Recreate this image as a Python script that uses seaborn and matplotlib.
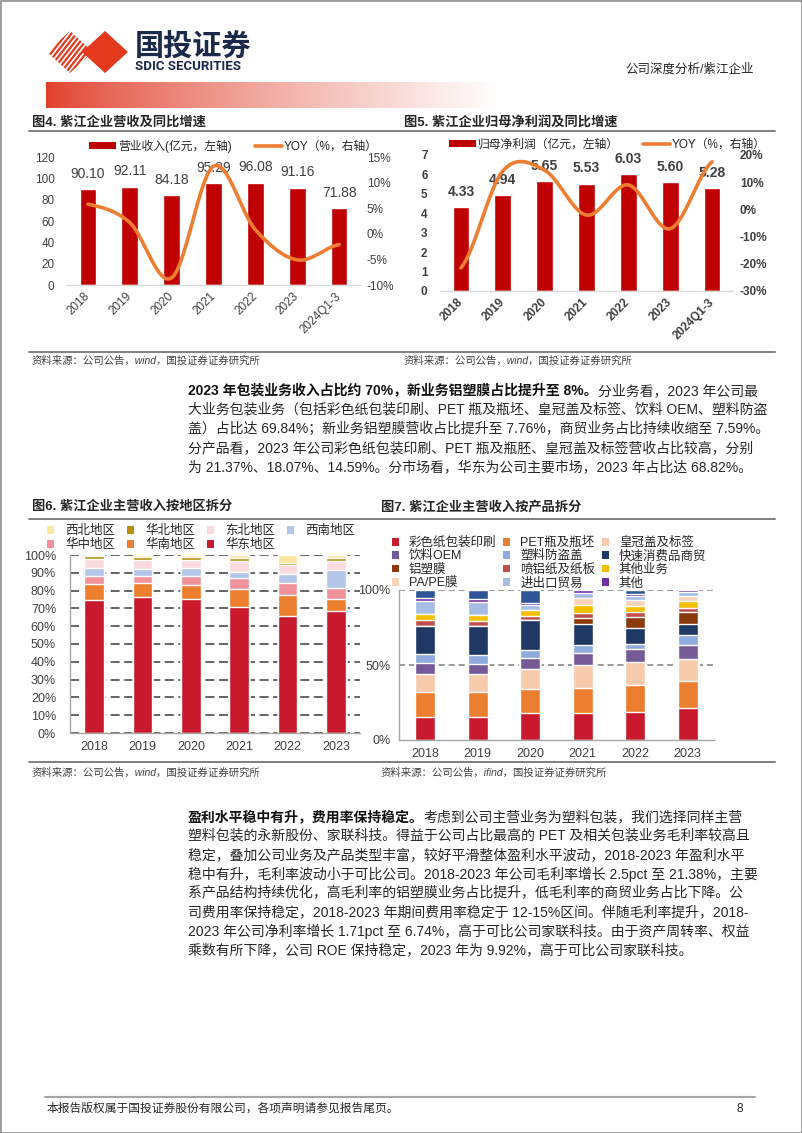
import numpy as np
import matplotlib
matplotlib.use("Agg")
import matplotlib.pyplot as plt
import seaborn as sns
from matplotlib.patches import Polygon, Rectangle, Patch
from matplotlib.lines import Line2D

# ---------------- data ----------------
years_a = ["2018", "2019", "2020", "2021", "2022", "2023", "2024Q1-3"]
revenue = [90.10, 92.11, 84.18, 95.29, 96.08, 91.16, 71.88]
revenue_yoy = [5.8, 2.2, -8.6, 13.2, 0.8, -5.1, -2.1]
profit = [4.33, 4.94, 5.65, 5.53, 6.03, 5.60, 5.28]
profit_yoy = [-21.5, 14.1, 14.4, -2.1, 9.0, -7.1, 17.5]

years_b = ["2018", "2019", "2020", "2021", "2022", "2023"]
region_names = ["华东地区", "华南地区", "华中地区", "西南地区", "东北地区", "华北地区", "西北地区"]
region_east = [74.7, 76.4, 75.2, 70.7, 65.5, 68.8]
region_south = [8.8, 7.8, 7.7, 10.0, 12.0, 6.3]
region_central = [4.9, 4.2, 5.5, 6.5, 6.6, 6.1]
region_southwest = [4.1, 3.5, 4.1, 3.4, 5.0, 10.5]
region_northeast = [5.2, 5.5, 4.7, 6.2, 5.3, 5.0]
region_north = [1.5, 1.4, 1.5, 1.7, 1.3, 1.5]
region_northwest = [0.8, 1.2, 1.3, 1.5, 4.3, 1.8]

product_names = ["彩色纸包装印刷", "PET瓶及瓶坯", "皇冠盖及标签", "饮料OEM", "塑料防盗盖",
                 "快速消费品商贸", "铝塑膜", "喷铝纸及纸板", "其他业务", "PA/PE膜",
                 "进出口贸易", "其他", "未列示"]
prod_color_print = [15.2, 15.6, 17.9, 18.0, 18.7, 21.37]
prod_pet = [16.9, 16.2, 16.3, 16.7, 17.7, 18.07]
prod_crown = [11.6, 12.2, 13.0, 15.0, 15.8, 14.59]
prod_oem = [7.6, 6.7, 7.7, 8.3, 8.2, 9.4]
prod_cap = [5.9, 6.0, 5.0, 5.2, 3.6, 6.4]
prod_fmcg = [19.0, 19.3, 19.8, 14.0, 10.6, 7.59]
prod_alu_film = [0.0, 0.0, 0.0, 3.9, 7.2, 7.76]
prod_alu_paper = [4.1, 3.3, 2.9, 3.4, 3.4, 3.1]
prod_other_biz = [4.0, 4.0, 4.4, 5.6, 4.1, 4.4]
prod_pape = [0.0, 0.0, 0.0, 4.4, 4.0, 3.3]
prod_trade = [8.5, 8.9, 3.2, 3.3, 2.7, 2.9]
prod_other = [1.6, 1.6, 1.1, 2.2, 1.3, 1.1]
prod_unlisted = [5.6, 6.2, 8.7, 0.0, 2.7, 0.0]

# ---------------- style ----------------
sns.set_theme(style="white")
plt.rcParams['font.family'] = ['Liberation Sans', 'Noto Sans CJK SC', 'DejaVu Sans']
plt.rcParams['axes.unicode_minus'] = False

W, H = 802, 1133
fig = plt.figure(figsize=(W / 100, H / 100), dpi=100)


def px_axes(x0, y0, x1, y1, **kw):
    a = fig.add_axes([x0 / W, 1 - y1 / H, (x1 - x0) / W, (y1 - y0) / H], **kw)
    return a


bg = px_axes(0, 0, W, H, zorder=-5)
bg.set_xlim(0, W)
bg.set_ylim(H, 0)
bg.axis('off')

TXT = "#262626"
GRAY = "#404040"
RED = "#C00000"
ORANGE = "#ED7D31"

# page border
bg.add_patch(Rectangle((0.5, 0.5), W - 1, H - 1, fill=False, ec="#8C8C8C", lw=1.2))

# ---------------- header ----------------
stripe_clip = Polygon([(47, 52), (70, 31), (93, 52), (70, 73)], closed=True, fc='none', ec='none')
bg.add_patch(stripe_clip)
for i in range(14):
    x0 = 30 + i * 5
    ln, = bg.plot([x0, x0 + 44], [80, 24], color="#E5391E", lw=1.6, solid_capstyle='butt')
    ln.set_clip_path(stripe_clip)
bg.add_patch(Polygon([(82, 52), (105, 31), (128, 52), (105, 73)], closed=True, fc="#E5391E", ec='none'))
bg.text(135, 47, "国投证券", fontsize=21, fontweight='bold', color="#1B2A4A", va='center', ha='left',
        family=['Noto Sans CJK SC'])
bg.text(135, 67, "SDIC SECURITIES", fontsize=9.5, fontweight='bold', color="#1B2A4A", va='center', ha='left',
        family=['Roboto', 'DejaVu Sans'])
bg.text(754, 69, "公司深度分析/紫江企业", fontsize=9, color=TXT, va='center', ha='right')

grad = np.linspace(0, 1, 256)
cols = np.zeros((1, 256, 3))
base = np.array([0.88, 0.25, 0.17])
for k in range(3):
    cols[0, :, k] = base[k] + (1 - base[k]) * grad ** 0.8
bg.imshow(cols, extent=[46, 500, 108, 82], aspect='auto', interpolation='bilinear', zorder=1)
bg.set_xlim(0, W)
bg.set_ylim(H, 0)

# section titles & rules
bg.text(32, 122, "图4. 紫江企业营收及同比增速", fontsize=9.5, fontweight='bold', color=TXT, va='center')
bg.text(404, 122, "图5. 紫江企业归母净利润及同比增速", fontsize=9.5, fontweight='bold', color=TXT, va='center')
bg.plot([29, 775], [131, 131], color="#7F7F7F", lw=1.4)
bg.plot([29, 775], [352, 352], color="#7F7F7F", lw=1.4)
bg.text(32, 361, "资料来源：公司公告，wind，国投证券证券研究所", fontsize=7.5, color=GRAY, va='center', style='italic')
bg.text(404, 361, "资料来源：公司公告，wind，国投证券证券研究所", fontsize=7.5, color=GRAY, va='center', style='italic')

bg.text(32, 507, "图6. 紫江企业主营收入按地区拆分", fontsize=9.5, fontweight='bold', color=TXT, va='center')
bg.text(381, 507, "图7. 紫江企业主营收入按产品拆分", fontsize=9.5, fontweight='bold', color=TXT, va='center')
bg.plot([29, 775], [519, 519], color="#7F7F7F", lw=1.4)
bg.plot([29, 775], [762, 762], color="#7F7F7F", lw=1.4)
bg.text(32, 773, "资料来源：公司公告，wind，国投证券证券研究所", fontsize=7.5, color=GRAY, va='center', style='italic')
bg.text(381, 773, "资料来源：公司公告，ifind，国投证券证券研究所", fontsize=7.5, color=GRAY, va='center', style='italic')

# footer
bg.plot([45, 755], [1097, 1097], color="#A6A6A6", lw=1.5)
bg.text(47, 1109, "本报告版权属于国投证券股份有限公司，各项声明请参见报告尾页。", fontsize=8.5, color=TXT, va='center')
bg.text(740, 1109, "8", fontsize=8.5, color=TXT, va='center', ha='center')

# ---------------- paragraphs ----------------
renderer = fig.canvas.get_renderer()


def rich_line(x, y, parts, size=10):
    for txt, weight in parts:
        t = bg.text(x, y, txt, fontsize=size, fontweight=weight, va='center', ha='left',
                    color="#111111" if weight == 'bold' else TXT)
        bb = t.get_window_extent(renderer=renderer)
        x += bb.width


para1 = [
    [("2023 年包装业务收入占比约 70%，新业务铝塑膜占比提升至 8%。", 'bold'), ("分业务看，2023 年公司最", 'normal')],
    [("大业务包装业务（包括彩色纸包装印刷、PET 瓶及瓶坯、皇冠盖及标签、饮料 OEM、塑料防盗", 'normal')],
    [("盖）占比达 69.84%；新业务铝塑膜营收占比提升至 7.76%，商贸业务占比持续收缩至 7.59%。", 'normal')],
    [("分产品看，2023 年公司彩色纸包装印刷、PET 瓶及瓶胚、皇冠盖及标签营收占比较高，分别", 'normal')],
    [("为 21.37%、18.07%、14.59%。分市场看，华东为公司主要市场，2023 年占比达 68.82%。", 'normal')],
]
for i, parts in enumerate(para1):
    rich_line(188, 391 + 19 * i, parts)

para2 = [
    [("盈利水平稳中有升，费用率保持稳定。", 'bold'), ("考虑到公司主营业务为塑料包装，我们选择同样主营", 'normal')],
    [("塑料包装的永新股份、家联科技。得益于公司占比最高的 PET 及相关包装业务毛利率较高且", 'normal')],
    [("稳定，叠加公司业务及产品类型丰富，较好平滑整体盈利水平波动，2018-2023 年盈利水平", 'normal')],
    [("稳中有升，毛利率波动小于可比公司。2018-2023 年公司毛利率增长 2.5pct 至 21.38%，主要", 'normal')],
    [("系产品结构持续优化，高毛利率的铝塑膜业务占比提升，低毛利率的商贸业务占比下降。公", 'normal')],
    [("司费用率保持稳定，2018-2023 年期间费用率稳定于 12-15%区间。伴随毛利率提升，2018-", 'normal')],
    [("2023 年公司净利率增长 1.71pct 至 6.74%，高于可比公司家联科技。由于资产周转率、权益", 'normal')],
    [("乘数有所下降，公司 ROE 保持稳定，2023 年为 9.92%，高于可比公司家联科技。", 'normal')],
]
for i, parts in enumerate(para2):
    rich_line(188, 817 + 19 * i, parts)


# ---------------- helpers ----------------
def smooth(y, n=40):
    y = np.asarray(y, float)
    yp = np.concatenate([[y[0]], y, [y[-1]]])
    xs, ys = [], []
    t = np.linspace(0, 1, n)
    h00 = 2 * t ** 3 - 3 * t ** 2 + 1
    h10 = t ** 3 - 2 * t ** 2 + t
    h01 = -2 * t ** 3 + 3 * t ** 2
    h11 = t ** 3 - t ** 2
    for i in range(len(y) - 1):
        p0, p1 = yp[i + 1], yp[i + 2]
        m0 = (yp[i + 2] - yp[i]) / 2
        m1 = (yp[i + 3] - yp[i + 1]) / 2
        xs.append(i + t)
        ys.append(h00 * p0 + h10 * m0 + h01 * p1 + h11 * m1)
    return np.concatenate(xs), np.concatenate(ys)


def combo_chart(box, cats, bars, yoy, ylim_l, lticks, ylim_r, rticks, lab_bar, legend_xy, bold):
    ax = px_axes(*box)
    ax.set_facecolor('none')
    sns.barplot(x=cats, y=bars, color=RED, width=0.4, saturation=1, errorbar=None, ax=ax)
    fw = 'bold' if bold else 'normal'
    ax.bar_label(ax.containers[0], fmt='%.2f', padding=6, fontsize=10, color=GRAY, fontweight=fw)
    ax.set_ylim(*ylim_l)
    ax.set_yticks(lticks)
    ax.set_xlim(-0.5, len(cats) - 0.5)
    ax.set_xlabel("")
    ax.set_ylabel("")
    ax.set_xticks(range(len(cats)))
    ax.set_xticklabels(cats, rotation=45, ha='right', va='center', rotation_mode='anchor',
                       fontsize=8.5, color=GRAY, fontweight=fw)
    ax.tick_params(axis='y', labelsize=8.5, labelcolor=GRAY, length=0, pad=9)
    ax.tick_params(axis='x', length=0, pad=7)
    for lab in ax.get_yticklabels():
        lab.set_fontweight(fw)
    for s in ['left', 'right', 'top']:
        ax.spines[s].set_visible(False)
    ax.spines['bottom'].set_color("#D9D9D9")
    ax.spines['bottom'].set_linewidth(1.0)

    ax2 = ax.twinx()
    xs, ys = smooth(yoy)
    sns.lineplot(x=xs, y=ys, ax=ax2, color=ORANGE, linewidth=2.6, sort=False, estimator=None)
    ax2.set_ylim(*ylim_r)
    ax2.set_yticks(rticks)
    ax2.set_yticklabels([f"{int(v)}%" for v in rticks], fontsize=8.5, color=GRAY, fontweight=fw)
    ax2.tick_params(axis='y', length=0, pad=5)
    ax2.set_ylabel("")
    for s in ['left', 'right', 'top', 'bottom']:
        ax2.spines[s].set_visible(False)
    handles = [Patch(facecolor=RED, edgecolor='none'), Line2D([0], [0], color=ORANGE, lw=2.6)]
    ax2.legend(handles, [lab_bar, "YOY（%，右轴）"], loc='center left', bbox_to_anchor=legend_xy,
               bbox_transform=bg.transData, ncol=2, frameon=False, fontsize=8.5, handlelength=2.3,
               handleheight=0.55, handletextpad=0.15, columnspacing=2.0, borderpad=0, borderaxespad=0,
               labelcolor=TXT)
    return ax, ax2


combo_chart((67, 157, 360, 285), years_a, revenue, revenue_yoy, (0, 120), range(0, 121, 20),
            (-10, 15), [-10, -5, 0, 5, 10, 15], "营业收入(亿元，左轴)", (89, 146), False)
combo_chart((440, 155, 733, 291), years_a, profit, profit_yoy, (0, 7), range(0, 8),
            (-30, 20), [-30, -20, -10, 0, 10, 20], "归母净利润（亿元，左轴）", (449, 145), True)

# ---------------- stacked: region ----------------
region_vals = np.array([region_east, region_south, region_central, region_southwest,
                        region_northeast, region_north, region_northwest])
region_colors = ["#C8192E", "#EC7E2F", "#F0939B", "#B4C6E7", "#FADADD", "#B8900F", "#FCE6A0"]

ax6 = px_axes(70, 555, 360, 733)
ax6.set_facecolor('none')
cum6 = np.cumsum(region_vals, axis=0)
for k in range(len(region_names) - 1, -1, -1):
    sns.barplot(x=years_b, y=cum6[k], color=region_colors[k], width=0.4, saturation=1,
                errorbar=None, ax=ax6)
ax6.set_ylim(0, 100)
ax6.set_xlim(-0.5, len(years_b) - 0.5)
ax6.set_yticks(range(0, 101, 10))
ax6.set_yticklabels([f"{v}%" for v in range(0, 101, 10)])
ax6.set_xlabel("")
ax6.set_ylabel("")
ax6.tick_params(axis='both', length=0, labelsize=9, labelcolor=GRAY)
ax6.tick_params(axis='y', pad=10)
ax6.tick_params(axis='x', pad=6)
ax6.yaxis.grid(True, linestyle=(0, (5, 2.5)), color="#595959", lw=1.3)
ax6.set_axisbelow(True)
for s in ['right', 'top']:
    ax6.spines[s].set_visible(False)
for s in ['left', 'bottom']:
    ax6.spines[s].set_color("#A6A6A6")
    ax6.spines[s].set_linewidth(1.0)
order6 = [6, 2, 5, 1, 4, 0, 3]
h6 = [Patch(facecolor=region_colors[i], edgecolor='none') for i in order6]
ax6.legend(h6, [region_names[i] for i in order6], loc='upper left', bbox_to_anchor=(47, 525),
           bbox_transform=bg.transData, ncol=4, frameon=False, fontsize=9, handlelength=0.55,
           handleheight=0.55, handletextpad=0.9, columnspacing=0.95, labelspacing=0.15,
           borderpad=0, borderaxespad=0, labelcolor=TXT)

# ---------------- stacked: product ----------------
prod_vals = np.array([prod_color_print, prod_pet, prod_crown, prod_oem, prod_cap, prod_fmcg,
                      prod_alu_film, prod_alu_paper, prod_other_biz, prod_pape, prod_trade,
                      prod_other, prod_unlisted])
prod_colors = ["#C8192E", "#EC7E2F", "#F8CBAD", "#765A97", "#8FAADC", "#203864", "#8B3A0E",
               "#C0504D", "#F5BE00", "#FAD3B8", "#A6BCE3", "#7030A0", "#2F5597"]

ax7 = px_axes(399, 590, 714, 740)
ax7.set_facecolor('none')
cum7 = np.cumsum(prod_vals, axis=0)
for k in range(len(product_names) - 1, -1, -1):
    sns.barplot(x=years_b, y=cum7[k], color=prod_colors[k], width=0.38, saturation=1,
                errorbar=None, ax=ax7)
ax7.set_ylim(0, 100)
ax7.set_xlim(-0.5, len(years_b) - 0.5)
ax7.set_yticks([0, 50, 100])
ax7.set_yticklabels(["0%", "50%", "100%"])
ax7.set_xlabel("")
ax7.set_ylabel("")
ax7.tick_params(axis='both', length=0, labelsize=9, labelcolor=GRAY)
ax7.tick_params(axis='y', pad=6)
ax7.tick_params(axis='x', pad=6)
ax7.set_xticks(np.arange(0.5, len(years_b) - 0.5, 1), minor=True)
ax7.tick_params(axis='x', which='minor', length=4, color="#A6A6A6", width=1)
for yv in [50, 100]:
    ax7.axhline(yv, linestyle=(0, (4, 2.5)), color="#7F7F7F", lw=1.1, zorder=0.5)
for s in ['right', 'top']:
    ax7.spines[s].set_visible(False)
for s in ['left', 'bottom']:
    ax7.spines[s].set_color("#A6A6A6")
    ax7.spines[s].set_linewidth(1.0)
order7 = [0, 3, 6, 9, 1, 4, 7, 10, 2, 5, 8, 11]
h7 = [Patch(facecolor=prod_colors[i], edgecolor='none') for i in order7]
ax7.legend(h7, [product_names[i] for i in order7], loc='upper left', bbox_to_anchor=(392, 537),
           bbox_transform=bg.transData, ncol=3, frameon=False, fontsize=9, handlelength=0.55,
           handleheight=0.55, handletextpad=0.8, columnspacing=0.55, labelspacing=0.1,
           borderpad=0, borderaxespad=0, labelcolor=TXT)

fig.savefig("out.png", dpi=100)
